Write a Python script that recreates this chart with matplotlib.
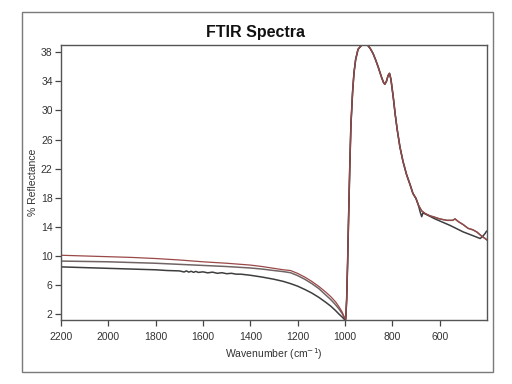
import matplotlib

matplotlib.use("Agg")
import matplotlib.pyplot as plt
from matplotlib.patches import Rectangle

plt.rcParams["font.family"] = ["Liberation Sans", "DejaVu Sans"]

# low-wavenumber baseline (three samples) ---------------------------------
wn_top = [2200, 2100, 2000, 1900, 1800, 1700, 1600, 1500, 1400, 1350, 1300,
          1260, 1230, 1200, 1170, 1140, 1110, 1080, 1060, 1040, 1025, 1012, 1003]
refl_top = [10.1, 10.0, 9.9, 9.8, 9.65, 9.45, 9.2, 9.0, 8.75, 8.55, 8.3,
            8.1, 8.0, 7.6, 7.1, 6.5, 5.8, 5.0, 4.4, 3.7, 3.0, 2.3, 1.6]

wn_mid = [2200, 2100, 2000, 1900, 1800, 1700, 1600, 1500, 1400, 1350, 1300,
          1260, 1230, 1200, 1170, 1140, 1110, 1080, 1060, 1040, 1025, 1012, 1003]
refl_mid = [9.3, 9.25, 9.2, 9.1, 9.0, 8.85, 8.7, 8.55, 8.35, 8.2, 8.0,
            7.85, 7.7, 7.3, 6.8, 6.2, 5.5, 4.6, 4.0, 3.3, 2.7, 2.1, 1.5]

wn_bot = [2200, 2100, 2000, 1900, 1800, 1750, 1700, 1680, 1670, 1660, 1650,
          1640, 1630, 1620, 1600, 1580, 1560, 1540, 1520, 1500, 1480, 1460,
          1440, 1400, 1350, 1300, 1260, 1230, 1200, 1170, 1140, 1110, 1080,
          1060, 1040, 1025, 1012, 1003]
refl_bot = [8.5, 8.4, 8.3, 8.2, 8.1, 8.0, 7.95, 7.8, 7.95, 7.78, 7.9,
            7.75, 7.88, 7.74, 7.82, 7.68, 7.78, 7.62, 7.7, 7.56, 7.62, 7.5,
            7.5, 7.35, 7.1, 6.8, 6.5, 6.2, 5.85, 5.4, 4.9, 4.3, 3.6,
            3.1, 2.5, 2.0, 1.6, 1.3]

# reststrahlen band region -------------------------------------------------
wn_band = [997, 993, 989, 985, 980, 975, 968, 962, 955, 945, 932, 918, 905,
           893, 881, 870, 860, 846, 838, 832, 825, 818, 812, 806, 800, 796,
           788, 780, 768, 755, 740, 725, 713, 700, 690]
refl_band = [1.3, 4.0, 9.0, 15.0, 22.0, 28.0, 32.5, 35.2, 37.0, 38.4, 38.9,
             39.2, 39.0, 38.5, 37.8, 36.9, 36.0, 34.6, 33.9, 33.6, 34.0, 34.8,
             35.1, 34.3, 32.8, 31.8, 29.5, 27.5, 25.0, 23.0, 21.2, 19.8, 18.6,
             17.9, 17.0]

wn_tail_red = [676, 660, 640, 628, 600, 570, 545, 535, 528, 520, 500, 480,
               460, 443, 425, 408, 400]
refl_tail_red = [16.2, 15.8, 15.5, 15.4, 15.1, 14.9, 14.9, 15.1, 14.9, 14.7,
                 14.3, 13.8, 13.6, 13.3, 12.8, 12.4, 12.2]

wn_tail_dark = [682, 676, 671, 662, 620, 556, 500, 460, 429, 418, 408, 402]
refl_tail_dark = [16.0, 15.4, 15.9, 15.8, 15.1, 14.2, 13.3, 12.8, 12.4, 12.7,
                  13.1, 13.4]

x_ticks = [2200, 2000, 1800, 1600, 1400, 1200, 1000, 800, 600]
y_ticks = [2, 6, 10, 14, 18, 22, 26, 30, 34, 38]

RED = "#9a4848"
MID = "#716464"
DARK = "#3e3e3e"

fig = plt.figure(figsize=(5.12, 3.84), dpi=100)
fig.patches.append(Rectangle((22 / 512, 1 - 372 / 384), 471 / 512, 360 / 384,
                             transform=fig.transFigure, fill=False,
                             edgecolor="#7a7a7a", lw=1.0))
ax = fig.add_axes([61 / 512, 1 - 320 / 384, 426 / 512, 275 / 384])

ax.plot(wn_mid + wn_band + wn_tail_red, refl_mid + refl_band + refl_tail_red,
        color=MID, lw=1.1)
ax.plot(wn_bot + wn_band + wn_tail_dark, refl_bot + refl_band + refl_tail_dark,
        color=DARK, lw=1.1)
ax.plot(wn_top + wn_band + wn_tail_red, refl_top + refl_band + refl_tail_red,
        color=RED, lw=0.9)

ax.set_xlim(2200, 400)
ax.set_ylim(1.2, 39)
ax.set_xticks(x_ticks)
ax.set_yticks(y_ticks)
ax.tick_params(direction="out", length=4, width=0.9, colors="#444444",
               labelsize=7.5, labelcolor="#333333")
ax.tick_params(axis="x", pad=5)
ax.tick_params(axis="y", pad=2)
for sp in ax.spines.values():
    sp.set_color("#555555")
    sp.set_linewidth(1.0)

ax.set_xlabel("Wavenumber (cm$^{-1}$)", fontsize=7.5, color="#333333",
              labelpad=3)
ax.set_ylabel("% Reflectance", fontsize=7.5, color="#333333", labelpad=2)
fig.text(0.5, 1 - 32 / 384, "FTIR Spectra", ha="center", va="center",
         fontsize=11.5, fontweight="bold", color="#111111")

fig.savefig("out.png", dpi=100)
